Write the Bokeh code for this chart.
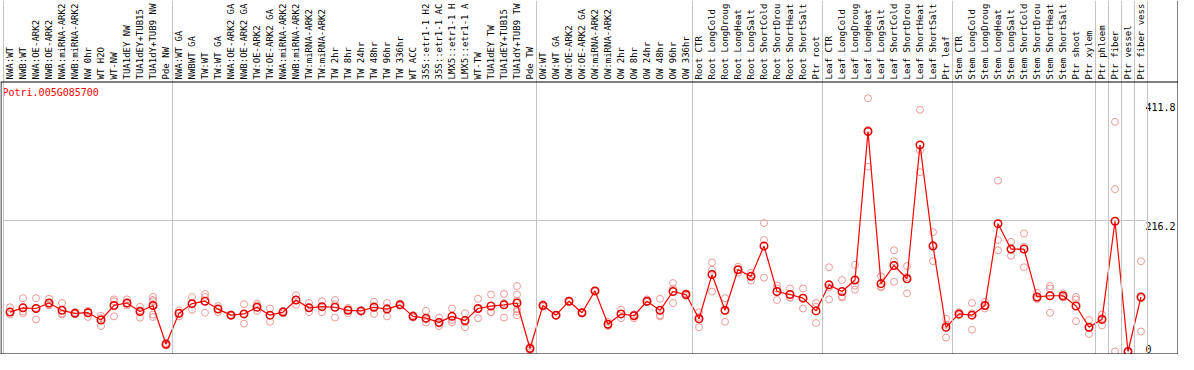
import math
from bokeh.plotting import figure
from bokeh.models import Range1d, Span, ColumnDataSource
from bokeh.core.properties import value
from bokeh.embed import file_html
from bokeh.resources import INLINE

gene = "Potri.005G085700"

categories = [
    "NWA:WT", "NWB:WT", "NWA:OE-ARK2", "NWB:OE-ARK2", "NWA:miRNA-ARK2", "NWB:miRNA-ARK2",
    "NW 0hr", "WT H2O", "WT-NW", "TUA1dEY NW", "TUA1dEY+TUB15", "TUA1dY+TUB9 NW", "Pde NW",
    "NWA:WT GA", "NWBWT GA", "TW:WT", "TW:WT GA", "NWA:OE-ARK2 GA", "NWB:OE-ARK2 GA",
    "TW:OE-ARK2", "TW:OE-ARK2 GA", "NWA:miRNA-ARK2", "NWB:miRNA-ARK2", "TW:miRNA-ARK2",
    "TW:miRNA-ARK2", "TW 2hr", "TW 8hr", "TW 24hr", "TW 48hr", "TW 96hr", "TW 336hr",
    "WT ACC", "35S::etr1-1 H2", "35S::etr1-1 AC", "LMX5::etr1-1 H", "LMX5::etr1-1 A",
    "WT-TW", "TUA1dEY TW", "TUA1dEY+TUB15", "TUA1dY+TUB9 TW", "Pde TW",
    "OW:WT", "OW:WT GA", "OW:OE-ARK2", "OW:OE-ARK2 GA", "OW:miRNA-ARK2", "OW:miRNA-ARK2",
    "OW 2hr", "OW 8hr", "OW 24hr", "OW 48hr", "OW 96hr", "OW 336hr",
    "Root CTR", "Root LongCold", "Root LongDroug", "Root LongHeat", "Root LongSalt",
    "Root ShortCold", "Root ShortDrou", "Root ShortHeat", "Root ShortSalt", "Ptr root",
    "Leaf CTR", "Leaf LongCold", "Leaf LongDroug", "Leaf LongHeat", "Leaf LongSalt",
    "Leaf ShortCold", "Leaf ShortDrou", "Leaf ShortHeat", "Leaf ShortSalt", "Ptr leaf",
    "Stem CTR", "Stem LongCold", "Stem LongDroug", "Stem LongHeat", "Stem LongSalt",
    "Stem ShortCold", "Stem ShortDrou", "Stem ShortHeat", "Stem ShortSalt", "Ptr shoot",
    "Ptr xylem", "Ptr phloem", "Ptr fiber", "Ptr vessel", "Ptr fiber vess",
]

group_sizes = [13, 28, 12, 10, 10, 11, 1, 1, 1, 1]

means = [65, 72, 71, 80, 68, 63, 64, 52, 76, 80,
         66, 76, 12, 63, 79, 83, 70, 60, 62, 73,
         60, 65, 85, 72, 74, 73, 68, 67, 73, 70,
         77, 58, 55, 48, 58, 51, 71, 75, 77, 80,
         5, 76, 60, 83, 64, 100, 45, 62, 59, 83,
         68, 99, 94, 54, 127, 68, 135, 124, 174, 99,
         94, 88, 67, 110, 99, 118, 363, 112, 142, 120,
         341, 174, 40, 62, 60, 76, 211, 169, 169, 90,
         92, 92, 75, 40, 53, 215, 0, 90]

rep1 = [73, 88, 88, 87, 80, 65, 66, 59, 86, 86,
        74, 90, 10, 68, 90, 95, 75, 61, 78, 79,
        71, 67, 93, 80, 83, 85, 69, 67, 82, 80,
        79, 60, 67, 56, 71, 63, 87, 94, 95, 108,
        8, 78, 60, 84, 65, 101, 49, 69, 61, 86,
        87, 113, 96, 65, 147, 88, 140, 130, 212, 109,
        104, 104, 80, 139, 118, 143, 418, 124, 167, 141,
        399, 197, 54, 65, 80, 82, 282, 181, 195, 97,
        108, 96, 90, 52, 61, 379, 0, 149]

rep2 = [61, 63, 53, 78, 61, 62, 67, 42, 83, 79,
        56, 85, 13, 63, 69, 90, 65, 59, 46, 76,
        49, 63, 77, 65, 65, 56, 63, 66, 62, 58,
        76, 56, 53, 42, 52, 40, 55, 65, 56, 94,
        5, 76, 59, 82, 63, 99, 42, 55, 55, 82,
        58, 80, 92, 40, 135, 49, 130, 117, 184, 104,
        89, 71, 47, 106, 89, 102, 366, 107, 149, 96,
        332, 149, 23, 60, 36, 71, 184, 158, 173, 87,
        104, 89, 86, 29, 43, 268, 0, 33]

rep3 = [65, 66, 72, 76, 63, 62, 57, 55, 58, 76,
        68, 83, 14, 58, 79, 64, 70, 60, 62, 67,
        60, 65, 85, 72, 74, 78, 72, 68, 75, 72,
        76, 58, 48, 46, 48, 48, 70, 65, 80, 84,
        2, 74, 60, 83, 64, 100, 44, 62, 61, 82,
        60, 104, 94, 57, 99, 67, 135, 125, 122, 85,
        89, 89, 74, 86, 91, 109, 305, 106, 115, 123,
        296, 176, 44, 61, 63, 75, 167, 168, 139, 87,
        64, 90, 50, 39, 55, 0, 0, 88]

extra_col = [11, 11, 11, 39, 39, 39]
extra_val = [76, 61, 57, 70, 66, 60]

y_ticks = [0, 216.2, 411.8]

# ---------------- layout (pixels) ----------------
W, H = 1178, 354
col_px = 13.0
x0_px = 3.0           # left edge of first column (figure px)
zero_px = 351.0       # y pixel of value 0
grid_px = 220.0       # y pixel of 216.2
ppu = (zero_px - grid_px) / y_ticks[1]
header_px = 81.5

x_start = -0.5 - x0_px / col_px
x_end = x_start + W / col_px
y_start = -(H - zero_px) / ppu
y_end = zero_px / ppu


def xd(px):
    return x_start + px / col_px


def yd(px):
    return (zero_px - px) / ppu


FONT = value("DejaVu Sans Mono")
GRID = "#c4c4c4"

p = figure(width=W, height=H, x_range=Range1d(x_start, x_end), y_range=Range1d(y_start, y_end),
           output_backend="svg", toolbar_location=None, min_border=0,
           x_axis_location=None, y_axis_location=None, outline_line_color=None,
           background_fill_color="white", border_fill_color="white")
p.grid.visible = False

n = len(categories)
xs = list(range(n))

# vertical group separators
bounds = [-0.5]
acc = 0
for g in group_sizes:
    acc += g
    bounds.append(acc - 0.5)
for b in bounds:
    p.add_layout(Span(location=b, dimension="height", line_color=GRID, line_width=1))

# horizontal grid at middle tick
p.segment(x0=[-0.5], y0=[y_ticks[1]], x1=[xd(1145)], y1=[y_ticks[1]], line_color=GRID, line_width=1)

# frame lines
p.add_layout(Span(location=yd(header_px), dimension="width", line_color="black", line_width=1))
p.add_layout(Span(location=yd(353.5), dimension="width", line_color="black", line_width=1))
p.add_layout(Span(location=xd(W - 0.5), dimension="height", line_color="black", line_width=1))
p.segment(x0=[xd(0.5)], y0=[yd(header_px)], x1=[xd(0.5)], y1=[yd(353.5)], line_color="black", line_width=1)

# category labels (header)
p.text(x=xs, y=[yd(header_px - 2.5)] * n, text=categories, angle=math.pi / 2,
       text_align="left", text_baseline="middle", text_font=FONT,
       text_font_size="9px", text_color="black")

# gene title
p.text(x=[xd(2)], y=[yd(86)], text=[gene], text_align="left", text_baseline="top",
       text_font=FONT, text_font_size="10px", text_color="#ff0000")

# right tick labels
tsrc = ColumnDataSource(dict(
    x=[xd(1145)] * len(y_ticks),
    y=y_ticks,
    text=[("%g" % t) for t in y_ticks],
    base=["bottom" if t == 0 else "top" for t in y_ticks],
))
p.text(x="x", y="y", text="text", text_baseline="base", text_align="left", source=tsrc,
       text_font=FONT, text_font_size="10px", text_color="black", y_offset=1)

# replicates
rx = xs + xs + xs + extra_col
ry = rep1 + rep2 + rep3 + extra_val
p.scatter(x=rx, y=ry, marker="circle", size=7, fill_color=None,
          line_color="#ee9a9a", line_width=1)

# mean line and points
p.line(x=xs, y=means, line_color="#ff0000", line_width=1.2)
p.scatter(x=xs, y=means, marker="circle", size=7.5, fill_color=None,
          line_color="#e00000", line_width=1.5)

open("out.html", "w").write(file_html(p, INLINE))
